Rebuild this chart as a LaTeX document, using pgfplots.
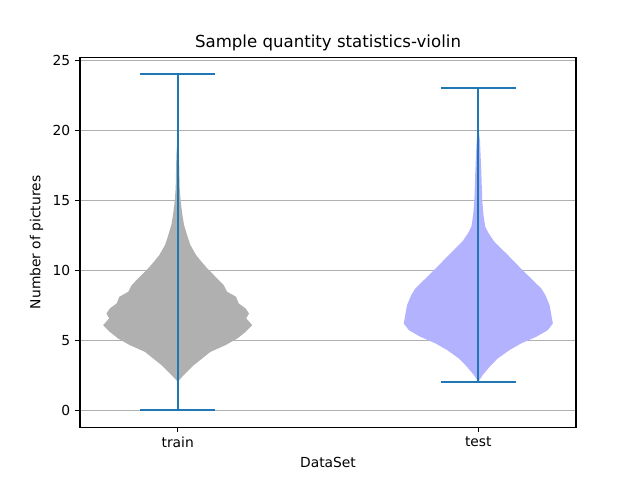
\documentclass[border=0pt]{standalone}
\usepackage{fontspec}
\setmainfont{DejaVu Sans}
\usepackage{pgfplots}
\usepackage{pgfplotstable}
\pgfplotsset{compat=1.18}
\usepgfplotslibrary{fillbetween}
\definecolor{mplblue}{HTML}{1F77B4}
\definecolor{traingray}{RGB}{176,176,176}
\definecolor{testblue}{RGB}{178,178,255}
\definecolor{gridgray}{HTML}{B0B0B0}

% violin profiles: value v, half width hw (x units)
\pgfplotstableread{
v hw
2.03 0
2.27 0.009
2.75 0.031
3.22 0.053
3.70 0.081
4.18 0.109
4.66 0.159
5.13 0.198
5.61 0.226
6.09 0.248
6.57 0.228
6.92 0.237
7.28 0.226
7.64 0.203
8.12 0.194
8.48 0.164
8.95 0.153
9.67 0.120
10.15 0.098
10.62 0.079
11.10 0.061
11.82 0.042
12.54 0.031
13.25 0.021
13.97 0.0156
14.92 0.010
15.88 0.0067
18.27 0.0044
19.70 0
}\traindata

\pgfplotstableread{
v hw
2.03 0
2.51 0.014
3.10 0.037
3.70 0.064
4.30 0.103
4.78 0.142
5.25 0.192
5.73 0.231
6.21 0.248
6.81 0.243
7.52 0.237
8.24 0.223
8.72 0.209
10.00 0.148
11.10 0.098
12.06 0.053
12.66 0.034
13.13 0.023
13.97 0.017
15.02 0.013
17.07 0.010
19.22 0.0056
20.30 0
}\testdata

\begin{document}
\begin{tikzpicture}
\begin{axis}[
    name=ax,
    scale only axis,
    width=4.96in, height=3.696in,
    xmin=0.675, xmax=2.325,
    ymin=-1.2, ymax=25.2,
    xtick={1,2}, xticklabels={train,test},
    ytick={0,5,10,15,20,25},
    tick align=outside,
    tick pos=left,
    major tick length=3.5pt,
    every tick/.style={black, line width=0.8pt},
    axis line style={line width=0.8pt},
    ymajorgrids,
    grid style={gridgray, line width=0.8pt},
    tick label style={font=\fontsize{10}{12}\selectfont},
    /pgf/number format/assume math mode=true,
    title={Sample quantity statistics-violin},
    title style={font=\fontsize{12}{14}\selectfont, inner sep=0pt, yshift=-1.5pt},
    xlabel={DataSet},
    ylabel={Number of pictures},
    label style={font=\fontsize{10}{12}\selectfont},
]
\addplot[name path=trr, draw=none, forget plot] table[x expr=1+\thisrow{hw}, y=v] {\traindata};
\addplot[name path=trl, draw=none, forget plot] table[x expr=1-\thisrow{hw}, y=v] {\traindata};
\addplot[traingray, draw=none] fill between[of=trr and trl];
\addplot[name path=ter, draw=none, forget plot] table[x expr=2+\thisrow{hw}, y=v] {\testdata};
\addplot[name path=tel, draw=none, forget plot] table[x expr=2-\thisrow{hw}, y=v] {\testdata};
\addplot[testblue, draw=none] fill between[of=ter and tel];
% whiskers and caps
\addplot[mplblue, line width=1.5pt, mark=none] coordinates {(1,0) (1,24)};
\addplot[mplblue, line width=1.5pt, mark=none] coordinates {(0.875,0) (1.125,0)};
\addplot[mplblue, line width=1.5pt, mark=none] coordinates {(0.875,24) (1.125,24)};
\addplot[mplblue, line width=1.5pt, mark=none] coordinates {(2,2) (2,23)};
\addplot[mplblue, line width=1.5pt, mark=none] coordinates {(1.875,2) (2.125,2)};
\addplot[mplblue, line width=1.5pt, mark=none] coordinates {(1.875,23) (2.125,23)};
\end{axis}
\path ([shift={(-0.8in,-0.528in)}]ax.south west) rectangle ([shift={(0.64in,0.576in)}]ax.north east);
\end{tikzpicture}
\end{document}
